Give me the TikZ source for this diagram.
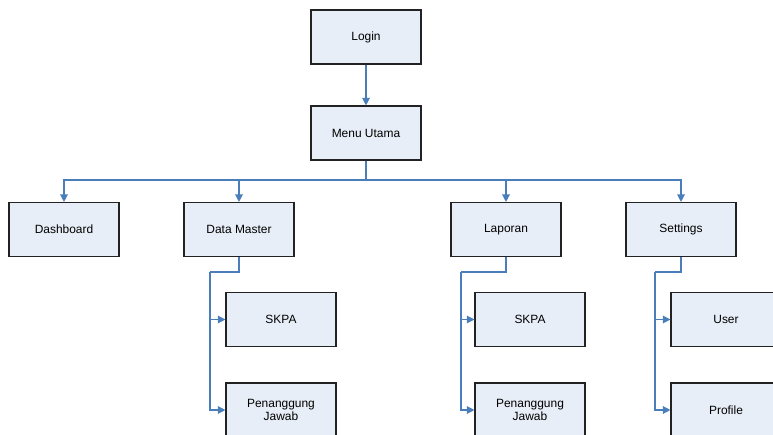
\documentclass[tikz,border=0pt]{standalone}
\usepackage{fontspec}
\setmainfont{Liberation Sans}
\usetikzlibrary{arrows.meta}
\definecolor{boxfill}{HTML}{E8EEF7}
\definecolor{boxline}{HTML}{222222}
\definecolor{conn}{HTML}{4A7EBB}
\begin{document}
\begin{tikzpicture}[x=1bp,y=-1bp,
  box/.style={draw=boxline,fill=boxfill,line width=1.1bp,minimum width=110bp,minimum height=54bp,inner sep=0pt,align=center,font=\fontsize{12}{13}\selectfont},
  wire/.style={draw=conn,line width=1.2bp},
  link/.style={wire,-{Triangle[length=7.5bp,width=7.5bp]}}]
\useasboundingbox (0,0) rectangle (773,435);
\clip (0,0) rectangle (773,435);
\node[box] (login) at (366,37) {Login};
\node[box] (menu) at (366,133) {Menu Utama};
\node[box] (dash) at (64,229.5) {Dashboard};
\node[box] (dm) at (239,229.5) {Data Master};
\node[box] (lap) at (506,229.5) {Laporan};
\node[box] (set) at (681,229.5) {Settings};
\node[box] (skpa1) at (281,319.5) {SKPA};
\node[box] (pj1) at (281,410) {Penanggung\\Jawab};
\node[box] (skpa2) at (530,319.5) {SKPA};
\node[box] (pj2) at (530,410) {Penanggung\\Jawab};
\node[box] (user) at (726,319.5) {User};
\node[box] (prof) at (726,410) {Profile};
\coordinate (bus) at (366,180);
\coordinate (dmk) at (210,272);
\coordinate (lapk) at (461,272);
\coordinate (setk) at (655,272);
\draw[link] (login) -- (menu);
\draw[wire] (menu.south) -- (bus);
\draw[link] (bus) -| (dash);
\draw[link] (bus) -| (dm);
\draw[link] (bus) -| (lap);
\draw[link] (bus) -| (set);
\draw[wire] (dm.south) |- (dmk);
\draw[link] (dmk) |- (skpa1.west);
\draw[link] (dmk) |- (pj1.west);
\draw[wire] (lap.south) |- (lapk);
\draw[link] (lapk) |- (skpa2.west);
\draw[link] (lapk) |- (pj2.west);
\draw[wire] (set.south) |- (setk);
\draw[link] (setk) |- (user.west);
\draw[link] (setk) |- (prof.west);
\end{tikzpicture}
\end{document}
